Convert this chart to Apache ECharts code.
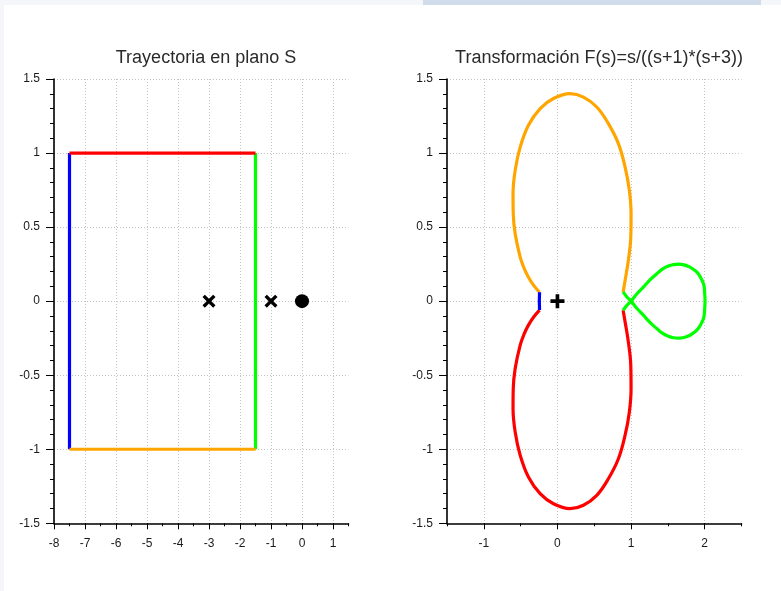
<!DOCTYPE html>
<html>
<head>
<meta charset="utf-8">
<script src="https://cdn.jsdelivr.net/npm/echarts@6/dist/echarts.min.js"></script>
<style>
  html, body { margin: 0; padding: 0; background: #ffffff; }
  #chart { width: 781px; height: 591px; }
</style>
</head>
<body>
<div id="chart"></div>
<script>
// ---- s-plane path: rectangle edges ----
const edgeTop    = [[-7.5, 1], [-1.5, 1]];
const edgeRight  = [[-1.5, -1], [-1.5, 1]];
const edgeBottom = [[-7.5, -1], [-1.5, -1]];
const edgeLeft   = [[-7.5, -1], [-7.5, 1]];

// poles (x) and zero (o) of F(s)
const poles = [[-3, 0], [-1, 0]];
const zeros = [[0, 0]];

// ---- F(s) image of each edge ----
const imgBottom = [
  [-0.243, 0.060], [-0.320, 0.105], [-0.394, 0.162], [-0.455, 0.225], [-0.506, 0.297],
  [-0.574, 0.455], [-0.600, 0.590], [-0.603, 0.726], [-0.574, 0.883], [-0.506, 1.040],
  [-0.394, 1.187], [-0.235, 1.300], [-0.054, 1.368], [0.172, 1.401], [0.353, 1.378],
  [0.534, 1.311], [0.692, 1.199], [0.828, 1.064], [0.919, 0.905], [0.977, 0.748],
  [1.000, 0.590], [0.996, 0.432], [0.963, 0.275], [0.919, 0.140], [0.892, 0.062]
];
const imgTop = [
  [-0.243, -0.060], [-0.320, -0.105], [-0.394, -0.162], [-0.455, -0.225], [-0.506, -0.297],
  [-0.574, -0.455], [-0.600, -0.590], [-0.603, -0.726], [-0.574, -0.883], [-0.506, -1.040],
  [-0.394, -1.187], [-0.235, -1.300], [-0.054, -1.368], [0.172, -1.401], [0.353, -1.378],
  [0.534, -1.311], [0.692, -1.199], [0.828, -1.064], [0.919, -0.905], [0.977, -0.748],
  [1.000, -0.590], [0.996, -0.432], [0.963, -0.275], [0.919, -0.140], [0.892, -0.062]
];
const imgRight = [
  [0.892, 0.062], [0.940, 0.030], [1.000, 0.000], [1.080, -0.050], [1.167, -0.095],
  [1.260, -0.145], [1.349, -0.185], [1.430, -0.218], [1.506, -0.237], [1.575, -0.247],
  [1.642, -0.250], [1.720, -0.245], [1.800, -0.230], [1.865, -0.208], [1.913, -0.185],
  [1.960, -0.145], [1.990, -0.106], [2.000, -0.050], [2.005, 0.000], [2.000, 0.050],
  [1.990, 0.106], [1.960, 0.145], [1.913, 0.185], [1.865, 0.208], [1.800, 0.230],
  [1.720, 0.245], [1.642, 0.250], [1.575, 0.247], [1.506, 0.237], [1.430, 0.218],
  [1.349, 0.185], [1.260, 0.145], [1.167, 0.095], [1.080, 0.050], [1.000, 0.000],
  [0.940, -0.030], [0.892, -0.062]
];
const imgLeft = [[-0.243, 0.060], [-0.246, 0.000], [-0.243, -0.060]];
const imgZero = [[0, 0]];

// tick labels
const leftXTicks  = [-8, -7, -6, -5, -4, -3, -2, -1, 0, 1];
const rightXTicks = [-1, 0, 1, 2];

const FONT = "'Liberation Sans', Arial, sans-serif";
const gridStyle = { show: true, lineStyle: { color: '#c4c4c4', type: [1, 2], width: 1 } };
const labelStyle = { color: '#1a1a1a', fontSize: 12, fontFamily: FONT };

const crossPath = 'path://M0,1.8 L1.8,0 L5,3.2 L8.2,0 L10,1.8 L6.8,5 L10,8.2 L8.2,10 L5,6.8 L1.8,10 L0,8.2 L3.2,5 Z';
const plusPath  = 'path://M3.7,0 H6.3 V3.7 H10 V6.3 H6.3 V10 H3.7 V6.3 H0 V3.7 H3.7 Z';

function minorXAxis(gridIndex, min, max) {
  return {
    type: 'value', gridIndex, min, max, interval: 0.5, position: 'bottom',
    axisLine: { show: true, onZero: false, lineStyle: { color: '#000', width: 1.6 } },
    axisTick: { show: true, length: 3, lineStyle: { color: '#000' } },
    axisLabel: { show: false },
    splitLine: { show: false }
  };
}
function majorXAxis(gridIndex, min, max, ticks) {
  return {
    type: 'value', gridIndex, min, max, interval: 0.5, position: 'bottom',
    axisLine: { show: false, onZero: false },
    axisTick: { show: true, length: 6, customValues: ticks, lineStyle: { color: '#000' } },
    axisLabel: Object.assign({ show: true, margin: 14, customValues: ticks }, labelStyle),
    splitLine: gridStyle
  };
}
function yAxisFor(gridIndex) {
  return {
    type: 'value', gridIndex, min: -1.5, max: 1.5, interval: 0.5,
    axisLine: { show: true, onZero: false, lineStyle: { color: '#000', width: 1.6 } },
    axisTick: { show: true, length: 8, lineStyle: { color: '#000' } },
    minorTick: { show: true, splitNumber: 5, length: 4, lineStyle: { color: '#000' } },
    axisLabel: Object.assign({ margin: 14 }, labelStyle),
    splitLine: gridStyle
  };
}
function edge(data, color, xi, yi, z) {
  return {
    type: 'line', data, xAxisIndex: xi, yAxisIndex: yi, showSymbol: false, symbol: 'none',
    lineStyle: { color, width: 3.2 }, z, silent: true, animation: false
  };
}
function curve(data, color, xi, yi, z) {
  return Object.assign(edge(data, color, xi, yi, z), { smooth: 0.4 });
}
function marker(data, symbol, size, xi, yi) {
  return {
    type: 'scatter', data, xAxisIndex: xi, yAxisIndex: yi, symbol, symbolSize: size,
    itemStyle: { color: '#000', opacity: 1 }, z: 6, silent: true
  };
}

const chart = echarts.init(document.getElementById('chart'), null, { renderer: 'canvas' });
chart.setOption({
  animation: false,
  backgroundColor: '#ffffff',
  graphic: [
    { type: 'rect', shape: { x: 0, y: 0, width: 781, height: 5 }, style: { fill: '#f5f6fa' }, z: -10 },
    { type: 'rect', shape: { x: 423, y: 0, width: 338, height: 5 }, style: { fill: '#d0dcea' }, z: -9 },
    { type: 'rect', shape: { x: 0, y: 0, width: 4, height: 591 }, style: { fill: '#f5f6fa' }, z: -10 }
  ],
  title: [
    { text: 'Trayectoria en plano S', left: 201, top: 44, textAlign: 'center',
      textStyle: { fontSize: 18, fontWeight: 'normal', color: '#2a2a2a', fontFamily: FONT } },
    { text: 'Transformación F(s)=s/((s+1)*(s+3))', left: 594, top: 44, textAlign: 'center',
      textStyle: { fontSize: 18, fontWeight: 'normal', color: '#2a2a2a', fontFamily: FONT } }
  ],
  grid: [
    { left: 54, top: 79, width: 294.5, height: 444.3 },
    { left: 447, top: 79, width: 294.5, height: 444.3 }
  ],
  xAxis: [
    minorXAxis(0, -8, 1.5),
    majorXAxis(0, -8, 1.5, leftXTicks),
    minorXAxis(1, -1.5, 2.5),
    majorXAxis(1, -1.5, 2.5, rightXTicks)
  ],
  yAxis: [yAxisFor(0), yAxisFor(1)],
  series: [
    edge(edgeLeft, '#0000ff', 0, 0, 3),
    edge(edgeRight, '#00ff00', 0, 0, 3),
    edge(edgeTop, '#ff0000', 0, 0, 4),
    edge(edgeBottom, '#ffa500', 0, 0, 4),
    marker(poles, crossPath, 13, 0, 0),
    marker(zeros, 'circle', 14, 0, 0),

    curve(imgBottom, '#ffa500', 2, 1, 3),
    curve(imgTop, '#ff0000', 2, 1, 3),
    curve(imgRight, '#00ff00', 2, 1, 4),
    edge(imgLeft, '#0000ff', 2, 1, 4),
    marker(imgZero, plusPath, 14, 2, 1)
  ]
});
</script>
</body>
</html>
